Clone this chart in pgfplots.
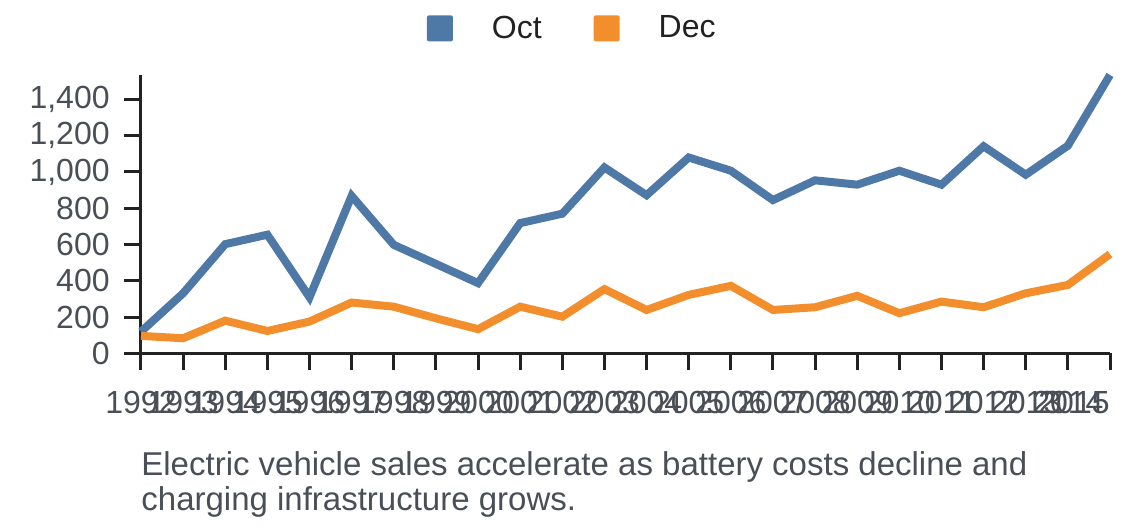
\documentclass[border=0pt]{standalone}
\usepackage{pgfplots}
\pgfplotsset{compat=1.18}
\usepackage{fontspec}
\setmainfont{Liberation Sans}
\definecolor{octc}{HTML}{4E79A7}
\definecolor{decc}{HTML}{F28E2B}
\definecolor{tickc}{HTML}{4A4F57}
\definecolor{axc}{HTML}{222222}

\begin{document}
\begin{tikzpicture}
\path[use as bounding box] (0,0) rectangle (570pt,264pt);
\begin{axis}[
  name=ax,
  at={(70.5pt,87.35pt)}, anchor=south west,
  scale only axis, width=484.5pt, height=139.15pt,
  xmin=1992, xmax=2015, ymin=0, ymax=1535,
  axis lines*=left,
  axis line style={axc, line width=1.5pt},
  tick align=outside,
  major tick length=8.5pt,
  tick style={axc, line width=1.5pt},
  xtick={1992,1993,1994,1995,1996,1997,1998,1999,2000,2001,2002,2003,2004,2005,2006,2007,2008,2009,2010,2011,2012,2013,2014},
  xticklabels={1992,1993,1994,1995,1996,1997,1998,1999,2000,2001,2002,2003,2004,2005,2006,2007,2008,2009,2010,2011,2012,2013,2014},
  extra x ticks={2015},
  extra x tick labels={2015},
  extra x tick style={xticklabel style={anchor=north east}},
  ytick={0,200,400,600,800,1000,1200,1400},
  scaled y ticks=false,
  yticklabel style={/pgf/number format/1000 sep={,}, xshift=-7pt},
  xticklabel style={yshift=-10pt},
  /pgf/number format/assume math mode=true,
  ticklabel style={font=\fontsize{16}{19}\selectfont, text=tickc, inner sep=0pt},
  clip=false,
  legend columns=2,
  legend cell align=left,
  legend style={at={(0.2951,1.1675)}, anchor=west, draw=none, fill=none,
    inner sep=0pt, outer sep=0pt,
    nodes={inner sep=0pt, text=axc, font=\fontsize{16}{19}\selectfont},
    /tikz/every odd column/.append style={column sep=19.5pt},
    /tikz/every even column/.append style={column sep=26pt}},
]
\addplot[octc, line width=4pt, no markers,
  legend image code/.code={\path[fill=octc, draw=none, rounded corners=1pt] (0pt,-6.5pt) rectangle (13pt,6.5pt);}]
  table[row sep=\\] {
x y\\
1992 119\\ 1993 331\\ 1994 602\\ 1995 654\\ 1996 309\\ 1997 868\\
1998 598\\ 1999 493\\ 2000 387\\ 2001 718\\ 2002 770\\ 2003 1025\\
2004 872\\ 2005 1080\\ 2006 1007\\ 2007 845\\ 2008 954\\ 2009 930\\
2010 1007\\ 2011 930\\ 2012 1142\\ 2013 985\\ 2014 1145\\ 2015 1535\\
};
\addlegendentry{Oct}
\addplot[decc, line width=4pt, no markers,
  legend image code/.code={\path[fill=decc, draw=none, rounded corners=1pt] (0pt,-6.5pt) rectangle (13pt,6.5pt);}]
  table[row sep=\\] {
x y\\
1992 96\\ 1993 83\\ 1994 180\\ 1995 123\\ 1996 175\\ 1997 280\\
1998 257\\ 1999 193\\ 2000 133\\ 2001 257\\ 2002 202\\ 2003 354\\
2004 239\\ 2005 322\\ 2006 372\\ 2007 239\\ 2008 254\\ 2009 317\\
2010 221\\ 2011 285\\ 2012 254\\ 2013 331\\ 2014 377\\ 2015 547\\
};
\addlegendentry{Dec}
\end{axis}
\node[anchor=base west, inner sep=0pt, text=tickc, font=\fontsize{16.5}{19}\selectfont]
  at ([yshift=-61.35pt]ax.south west) {Electric vehicle sales accelerate as battery costs decline and};
\node[anchor=base west, inner sep=0pt, text=tickc, font=\fontsize{16.5}{19}\selectfont]
  at ([yshift=-78.7pt]ax.south west) {charging infrastructure grows.};
\end{tikzpicture}
\end{document}
